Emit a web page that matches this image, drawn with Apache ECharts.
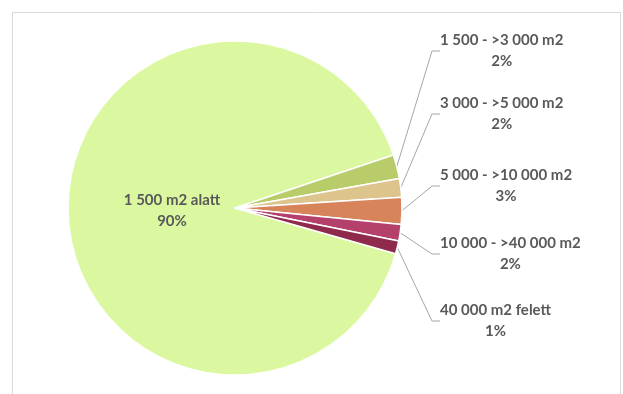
<!DOCTYPE html>
<html><head><meta charset="utf-8">
<script src="https://cdn.jsdelivr.net/npm/echarts@6/dist/echarts.min.js"></script>
<style>html,body{margin:0;padding:0;background:#fff}#c{width:623px;height:394px}</style>
</head><body><div id="c"></div>
<script>
const categories = ['1 500 m2 alatt', '1 500 - >3 000 m2', '3 000 - >5 000 m2', '5 000 - >10 000 m2', '10 000 - >40 000 m2', '40 000 m2 felett'];
const shares = [90.45, 2.3, 1.8, 2.6, 1.6, 1.25];
const sliceColors = ['#dbf8a0', '#b8cc6a', '#dcc48c', '#d8845a', '#b4406c', '#8f2a4d'];
const labelX = [172, 440, 440, 440, 440, 440];
const labelY = [211, 51, 114, 186, 254, 321];

const chart = echarts.init(document.getElementById('c'), null, {renderer: 'canvas'});
chart.setOption({
  animation: false,
  backgroundColor: '#ffffff',
  graphic: [{
    type: 'rect', shape: {x: 12.5, y: 12.5, width: 608, height: 400},
    style: {fill: 'none', stroke: '#d9d9d9', lineWidth: 1}, silent: true
  }],
  series: [{
    type: 'pie',
    center: [235, 208],
    radius: 167,
    startAngle: -15.9,
    clockwise: true,
    avoidLabelOverlap: false,
    itemStyle: {borderColor: '#ffffff', borderWidth: 1.5},
    label: {
      show: true,
      position: 'outside',
      color: '#595959',
      fontFamily: 'Lato',
      fontWeight: 'bold',
      fontSize: 15,
      formatter: function (p) { return '{n|' + p.name + '}\n{n|' + Math.round(p.percent) + '%}'; },
      rich: {n: {align: 'center', color: '#595959', fontFamily: 'Lato', fontWeight: 'bold', fontSize: 15, lineHeight: 21}}
    },
    labelLine: {show: true, length: 10, length2: 8, lineStyle: {color: '#a6a6a6', width: 1}},
    labelLayout: function (p) {
      const i = p.dataIndex;
      return {x: labelX[i], y: labelY[i], align: i === 0 ? 'center' : 'left', verticalAlign: 'middle'};
    },
    data: categories.map(function (c, i) {
      const d = {name: c, value: shares[i], itemStyle: {color: sliceColors[i]}};
      if (i === 0) { d.label = {position: 'inside'}; d.labelLine = {show: false}; }
      return d;
    })
  }]
});
</script></body></html>
